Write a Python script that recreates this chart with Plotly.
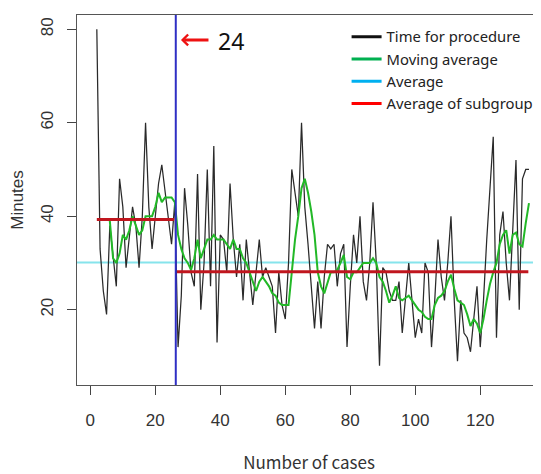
import plotly.graph_objects as go

# ---- data ----
case_start = 2
procedure_time = [
    80, 33, 24, 19, 38, 32, 25, 48, 42, 29,
    36, 42, 38, 29, 40, 60, 42, 33, 40, 47,
    51, 45, 40, 34, 43, 12, 23, 46, 38, 28,
    25, 49, 20, 30, 50, 25, 55, 13, 36, 35,
    28, 47, 35, 27, 34, 22, 35, 28, 21, 28,
    35, 27, 29, 27, 25, 15, 28, 21, 18, 30,
    50, 45, 40, 60, 42, 34, 24, 16, 26, 16,
    27, 34, 33, 34, 25, 32, 34, 12, 25, 36,
    30, 40, 26, 22, 30, 43, 30, 8, 29, 28,
    24, 22, 22, 26, 15, 22, 30, 22, 14, 18,
    15, 30, 28, 12, 22, 35, 27, 22, 30, 40,
    22, 9, 22, 15, 14, 11, 18, 25, 12, 22,
    35, 47, 57, 14, 36, 41, 30, 22, 38, 52,
    20, 48, 50, 50,
]
cases = list(range(case_start, case_start + len(procedure_time)))

ma_start = 6
moving_average = [
    39, 31, 30, 32, 36, 35, 37, 40, 38, 36,
    37, 40, 40, 40, 42, 45, 43, 44, 44, 44,
    43, 36, 33, 31, 30, 28.5, 31, 35, 31, 33,
    35, 35, 36, 35, 35, 35, 34, 33, 35, 33,
    33, 31, 30, 28, 26, 24, 26, 27, 26, 25,
    23.5, 23, 21.5, 21, 21, 21, 28, 35, 40, 46,
    48, 45, 41, 36, 28, 25, 23.5, 26, 28, 28,
    28.5, 30, 31.7, 27, 26.5, 28, 28, 29, 30, 30,
    30, 31, 30, 27, 26, 24, 21.5, 23, 25, 22.5,
    22, 22.5, 23, 22, 21, 20, 19.5, 18.5, 18, 18,
    21, 22.5, 23, 24, 26, 27.5, 24.5, 22, 21.5, 21,
    19, 16.5, 18, 17, 15, 18, 22, 25.5, 28, 30,
    34, 36, 37, 32, 36, 36.5, 34, 33.5, 38.5, 42.8,
]
ma_cases = list(range(ma_start, ma_start + len(moving_average)))

overall_average = 30.1
change_point_label = "24"
change_point_x = 26.3
subgroup_x = [[2, 25.8], [26.6, 134.8]]
subgroup_avg = [39.3, 28.1]

x_ticks = [0, 20, 40, 60, 80, 100, 120]
y_ticks = [20, 40, 60, 80]

legend_names = ["Time for procedure", "Moving average", "Average", "Average of subgroup"]
legend_colors = ["#111111", "#00b050", "#00b0f0", "#ff0000"]

# ---- figure ----
fig = go.Figure()

fig.add_trace(go.Scatter(x=cases, y=procedure_time, mode="lines",
                         line=dict(color="#2a2a2a", width=1.25), showlegend=False,
                         hoverinfo="skip"))
fig.add_trace(go.Scatter(x=ma_cases, y=moving_average, mode="lines",
                         line=dict(color="#22b827", width=2), showlegend=False,
                         hoverinfo="skip"))
for xs, v in zip(subgroup_x, subgroup_avg):
    fig.add_trace(go.Scatter(x=xs, y=[v, v], mode="lines",
                             line=dict(color="#c0161e", width=3), showlegend=False,
                             hoverinfo="skip"))

for name, col in zip(legend_names, legend_colors):
    fig.add_trace(go.Scatter(x=[None], y=[None], mode="lines", name=name,
                             line=dict(color=col, width=3)))

fig.add_shape(type="line", xref="paper", yref="y", x0=0, x1=1,
              y0=overall_average, y1=overall_average,
              line=dict(color="#86e4ec", width=2), layer="below")
fig.add_shape(type="line", xref="x", yref="paper", x0=change_point_x, x1=change_point_x,
              y0=0, y1=1, line=dict(color="#2f2fc4", width=2))

fig.add_annotation(x=27.9, y=77.7, xref="x", yref="y", text="", showarrow=True,
                   ax=29, ay=0, arrowcolor="#ee1111", arrowwidth=3, arrowhead=4,
                   arrowsize=0.7)
fig.add_annotation(x=43.3, y=77.5, xref="x", yref="y", text=change_point_label,
                   showarrow=False, font=dict(family="Noto Sans", size=23, color="#111111"))

axis_font = dict(family="Liberation Sans, Arial", size=17, color="#333333")
# the page body adds an 8px margin, so the figure is 8px smaller than the window
fig.update_layout(
    width=533, height=466,
    margin=dict(l=69, r=0, t=7, b=89, autoexpand=False),
    paper_bgcolor="white", plot_bgcolor="white",
    showlegend=True,
    legend=dict(x=0.581, y=0.985, xanchor="left", yanchor="top",
                bgcolor="rgba(0,0,0,0)", font=dict(family="Noto Sans", size=14.8, color="#222222"),
                itemwidth=30, tracegroupgap=0),
    xaxis=dict(range=[-4.1, 138.7], tickvals=x_ticks, ticks="outside", ticklen=9,
               tickcolor="#444444", showline=True, mirror=True, linecolor="#555555",
               linewidth=1.3, showgrid=False, zeroline=False, tickfont=axis_font,
               ticklabelstandoff=10, automargin=False,
               title=dict(text="Number of cases", standoff=37,
                          font=dict(family="Noto Sans CJK KR", size=17, color="#333333"))),
    yaxis=dict(range=[3.89, 83.04], tickvals=y_ticks, ticks="outside", ticklen=9,
               tickcolor="#444444", showline=True, mirror=False, linecolor="#555555",
               linewidth=1.3, showgrid=False, zeroline=False, tickfont=axis_font,
               tickangle=-90, ticklabelstandoff=7, automargin=False,
               title=dict(text="Minutes", standoff=16,
                          font=dict(family="Liberation Sans, Arial", size=17, color="#333333"))),
)

fig.write_html("out.html")
